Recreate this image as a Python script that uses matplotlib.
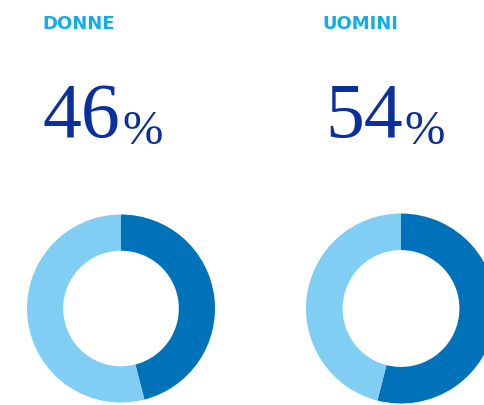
import matplotlib.pyplot as plt

labels = ["DONNE", "UOMINI"]
numbers = ["46", "54"]
dark_share = [46, 54]

dark = "#0072B9"
light = "#80CEF3"
title_col = "#12ADE4"
num_col = "#0B2F9C"

W, H = 484, 405
fig = plt.figure(figsize=(W / 100, H / 100), dpi=100)
ax = fig.add_axes([0, 0, 1, 1])

centers_x = [121, 401]
radii = [94, 95]
title_x = [42, 322]
num_x = [43, 325]

for i in range(2):
    vals = [dark_share[i], 100 - dark_share[i]]
    ax.pie(vals, colors=[dark, light], startangle=90, counterclock=False,
           center=(centers_x[i], H - 308.5), radius=radii[i],
           wedgeprops=dict(width=radii[i] * 0.385, linewidth=0))
    ax.text(title_x[i], H - 29, labels[i], color=title_col, fontsize=13,
            fontweight="heavy", family="DejaVu Sans", ha="left", va="baseline")
    t = ax.text(num_x[i], H - 137, numbers[i], color=num_col, fontsize=56,
                family="Liberation Serif", ha="left", va="baseline")
    ax.annotate("%", xy=(1, 0), xycoords=t, xytext=(1, 0),
                textcoords="offset points", color=num_col, fontsize=35,
                family="Liberation Serif", ha="left", va="bottom")

ax.set_xlim(0, W)
ax.set_ylim(0, H)
ax.set_aspect("equal")
ax.axis("off")

fig.savefig("out.png", dpi=100)
